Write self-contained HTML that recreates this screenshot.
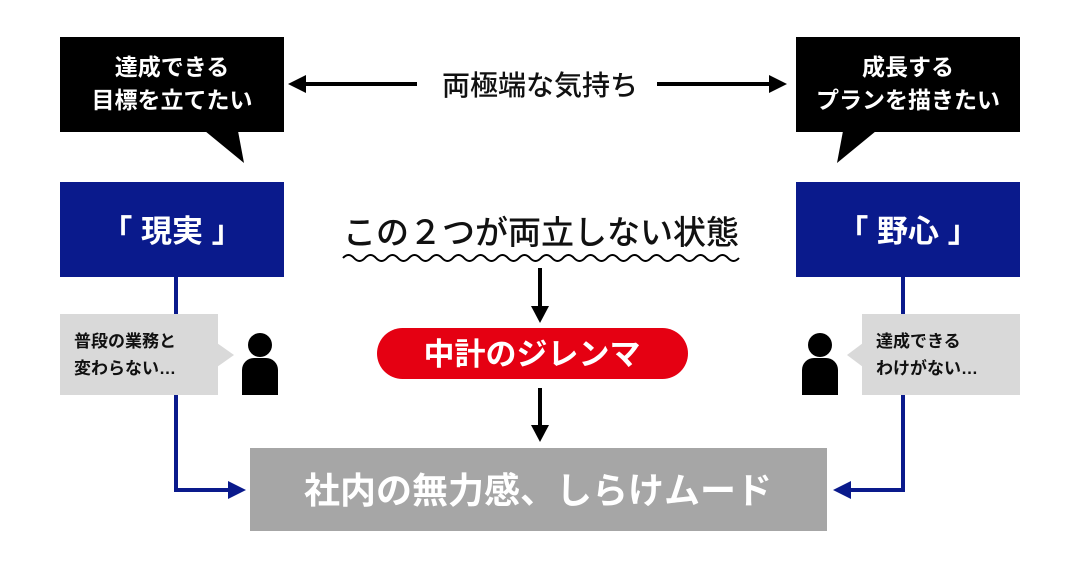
<!DOCTYPE html>
<html><head><meta charset="utf-8"><style>
html,body{margin:0;padding:0;background:#fff;}
svg{display:block;}
text{font-family:"Liberation Sans","Noto Sans CJK JP",sans-serif;}
</style></head><body>
<svg width="1080" height="567" viewBox="0 0 1080 567" xmlns="http://www.w3.org/2000/svg">
<rect x="60" y="37" width="224" height="95" fill="#000"/>
<polygon points="205,131 238,131 244,163" fill="#000"/>
<text x="172" y="75" font-size="23" font-weight="bold" fill="#fff" text-anchor="middle">達成できる</text>
<text x="172" y="108" font-size="23" font-weight="bold" fill="#fff" text-anchor="middle">目標を立てたい</text>

<rect x="796" y="37" width="224" height="95" fill="#000"/>
<polygon points="843,131 876,131 837,163" fill="#000"/>
<text x="908" y="75" font-size="23" font-weight="bold" fill="#fff" text-anchor="middle">成長する</text>
<text x="908" y="108" font-size="23" font-weight="bold" fill="#fff" text-anchor="middle">プランを描きたい</text>

<line x1="300" y1="84" x2="417" y2="84" stroke="#000" stroke-width="4"/>
<polygon points="288,84 306,75 306,93" fill="#000"/>
<line x1="657" y1="84" x2="774" y2="84" stroke="#000" stroke-width="4"/>
<polygon points="787,84 769,75 769,93" fill="#000"/>
<text x="540" y="95" font-size="28" font-weight="500" fill="#111" text-anchor="middle">両極端な気持ち</text>

<rect x="60" y="182" width="224" height="95" fill="#0a1a8c"/>
<text x="172" y="242" font-size="31" font-weight="bold" fill="#fff" text-anchor="middle">「 現実 」</text>
<rect x="796" y="182" width="224" height="95" fill="#0a1a8c"/>
<text x="908" y="242" font-size="31" font-weight="bold" fill="#fff" text-anchor="middle">「 野心 」</text>

<text x="541" y="244" font-size="33" font-weight="500" fill="#111" text-anchor="middle">この２つが両立しない状態</text>
<path d="M343,258 q5.5,-6 11,0 t11,0 t11,0 t11,0 t11,0 t11,0 t11,0 t11,0 t11,0 t11,0 t11,0 t11,0 t11,0 t11,0 t11,0 t11,0 t11,0 t11,0 t11,0 t11,0 t11,0 t11,0 t11,0 t11,0 t11,0 t11,0 t11,0 t11,0 t11,0 t11,0 t11,0 t11,0 t11,0 t11,0 t11,0 t11,0" fill="none" stroke="#000" stroke-width="2"/>

<line x1="540" y1="268" x2="540" y2="310" stroke="#000" stroke-width="4"/>
<polygon points="531,306 549,306 540,323" fill="#000"/>
<line x1="540" y1="388" x2="540" y2="428" stroke="#000" stroke-width="4"/>
<polygon points="531,425 549,425 540,442" fill="#000"/>

<rect x="377" y="328" width="311" height="51" rx="25.5" fill="#e50012"/>
<text x="532" y="365" font-size="31" font-weight="bold" fill="#fff" text-anchor="middle">中計のジレンマ</text>

<polyline points="176,277 176,490 232,490" fill="none" stroke="#0a1a8c" stroke-width="4"/>
<polygon points="246,490 228,481 228,499" fill="#0a1a8c"/>
<polyline points="903,277 903,490 848,490" fill="none" stroke="#0a1a8c" stroke-width="4"/>
<polygon points="833,490 851,481 851,499" fill="#0a1a8c"/>

<rect x="60" y="314" width="158" height="81" fill="#d9d9d9"/>
<polygon points="217,343 234,355 217,367" fill="#d9d9d9"/>
<text x="74" y="347" font-size="17" font-weight="bold" fill="#111">普段の業務と</text>
<text x="74" y="374" font-size="17" font-weight="bold" fill="#111">変わらない…</text>

<rect x="862" y="314" width="158" height="81" fill="#d9d9d9"/>
<polygon points="863,343 847,355 863,367" fill="#d9d9d9"/>
<text x="876" y="347" font-size="17" font-weight="bold" fill="#111">達成できる</text>
<text x="876" y="374" font-size="17" font-weight="bold" fill="#111">わけがない…</text>

<circle cx="260" cy="345" r="12" fill="#000"/>
<path d="M242,395 V370 a12,12 0 0 1 12,-12 h12 a12,12 0 0 1 12,12 V395 Z" fill="#000"/>
<circle cx="820" cy="345" r="12" fill="#000"/>
<path d="M802,395 V370 a12,12 0 0 1 12,-12 h12 a12,12 0 0 1 12,12 V395 Z" fill="#000"/>

<rect x="250" y="448" width="577" height="83" fill="#a6a6a6"/>
<text x="538" y="503" font-size="36" font-weight="bold" fill="#fff" text-anchor="middle">社内の無力感、しらけムード</text>
</svg>
</body></html>
